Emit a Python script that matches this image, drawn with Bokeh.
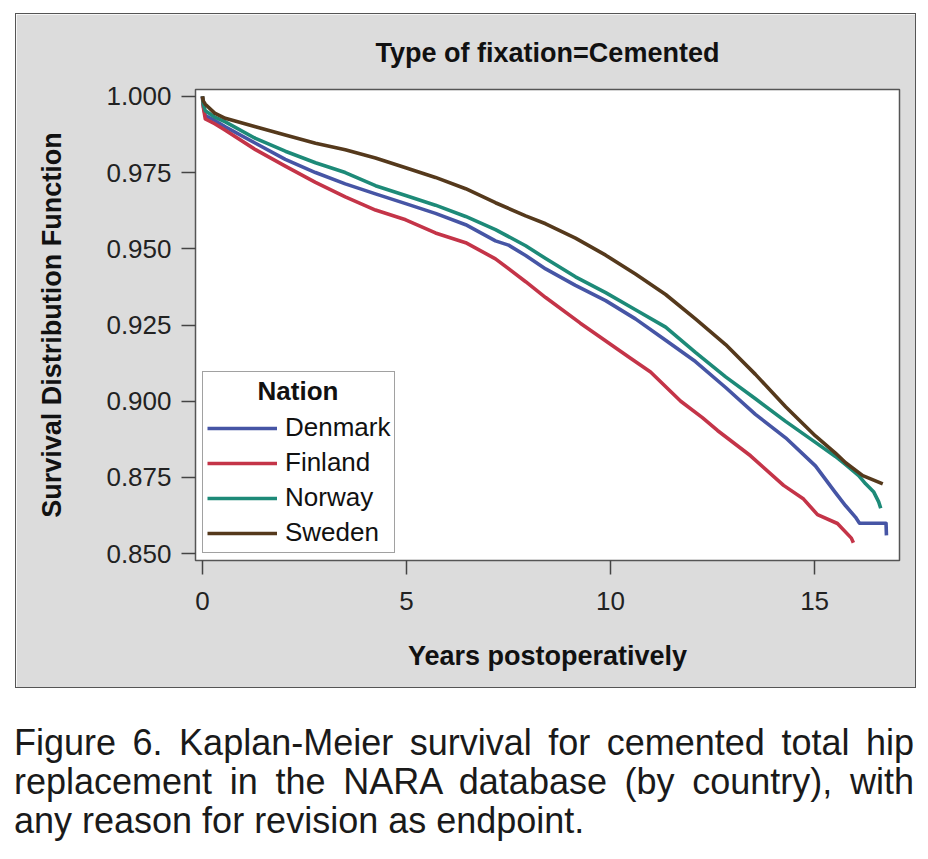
from bokeh.plotting import figure
from bokeh.models import Range1d, FixedTicker, NumeralTickFormatter, Legend, LegendItem, Div, Spacer
from bokeh.layouts import column, row
from bokeh.embed import file_html
from bokeh.resources import INLINE

# ---- data ----
nations = ["Denmark", "Finland", "Norway", "Sweden"]
colors = ["#4655a5", "#c43448", "#1d8a78", "#55391c"]

denmark_t = [0, 0.02, 0.07, 0.3, 0.56, 1.30, 2.03, 2.77, 3.50, 4.24, 4.98, 5.71, 6.45, 7.18,
             7.5, 7.92, 8.41, 9.14, 9.88, 10.61, 11.35, 12.08, 12.82, 13.55, 14.29, 15.02,
             15.51, 15.76, 16.0, 16.1, 16.75, 16.76]
denmark_s = [1.000, 0.9970, 0.9937, 0.9921, 0.9900, 0.9846, 0.9793, 0.9750, 0.9713, 0.9680,
             0.9648, 0.9616, 0.9579, 0.9526, 0.9512, 0.9478, 0.9434, 0.9380, 0.9330, 0.9270,
             0.9200, 0.9130, 0.9045, 0.8957, 0.8880, 0.8788, 0.8700, 0.8657, 0.8620, 0.8600,
             0.8600, 0.8560]

finland_t = [0, 0.02, 0.07, 0.3, 0.56, 1.30, 2.03, 2.77, 3.50, 4.24, 4.98, 5.71, 6.45, 7.18,
             7.92, 8.41, 9.26, 10.49, 10.98, 11.72, 12.25, 12.62, 13.43, 14.24, 14.73, 15.07,
             15.56, 15.9, 15.95]
finland_s = [1.000, 0.9965, 0.9926, 0.9910, 0.9889, 0.9825, 0.9771, 0.9718, 0.9670, 0.9627,
             0.9595, 0.9552, 0.9520, 0.9467, 0.9392, 0.9340, 0.9256, 0.9141, 0.9096, 0.9000,
             0.8946, 0.8904, 0.8821, 0.8724, 0.8679, 0.8628, 0.8599, 0.8551, 0.8536]

norway_t = [0, 0.02, 0.07, 0.3, 0.56, 1.30, 2.03, 2.77, 3.50, 4.24, 4.98, 5.71, 6.45, 7.18,
            7.92, 8.41, 9.14, 9.88, 10.61, 11.35, 12.08, 12.82, 13.55, 14.29, 15.02, 15.51,
            15.76, 16.08, 16.25, 16.45, 16.57, 16.62]
norway_s = [1.000, 0.9975, 0.9953, 0.9932, 0.9916, 0.9862, 0.9820, 0.9782, 0.9750, 0.9707,
            0.9675, 0.9643, 0.9606, 0.9563, 0.9510, 0.9468, 0.9408, 0.9356, 0.9300, 0.9243,
            0.9160, 0.9080, 0.9008, 0.8934, 0.8865, 0.8819, 0.8792, 0.8756, 0.8729, 0.8702,
            0.8670, 0.8649]

sweden_t = [0, 0.02, 0.07, 0.3, 0.56, 1.30, 2.03, 2.77, 3.50, 4.24, 4.98, 5.71, 6.45, 7.18,
            7.92, 8.41, 9.14, 9.88, 10.61, 11.35, 12.08, 12.82, 13.55, 14.29, 15.02, 15.51,
            15.76, 16.18, 16.67]
sweden_s = [1.000, 0.9985, 0.9974, 0.9945, 0.9928, 0.9900, 0.9873, 0.9846, 0.9825, 0.9798,
            0.9766, 0.9734, 0.9697, 0.9651, 0.9608, 0.9582, 0.9535, 0.9479, 0.9417, 0.9350,
            0.9270, 0.9186, 0.9088, 0.8982, 0.8886, 0.8830, 0.8798, 0.8756, 0.8729]

x_ticks = [0, 5, 10, 15]
y_ticks = [0.850, 0.875, 0.900, 0.925, 0.950, 0.975, 1.000]

title_text = "Type of fixation=Cemented"
x_label = "Years postoperatively"
y_label = "Survival Distribution Function"
legend_title = "Nation"
caption_lines = [
    "Figure 6. Kaplan-Meier survival for cemented total hip",
    "replacement in the NARA database (by country), with",
    "any reason for revision as endpoint.",
]

FONT = "Liberation Sans"

p = figure(width=899, height=673, output_backend="svg", toolbar_location=None,
           x_range=Range1d(-0.17, 17.08), y_range=Range1d(0.84776, 1.00224),
           min_border_left=179, min_border_right=16, min_border_top=64, min_border_bottom=127,
           margin=0)
p.styles = {"outline": "1.5px solid #555"}
p.border_fill_color = "#dcdcdc"
p.background_fill_color = "white"
p.outline_line_color = "#555555"
p.outline_line_width = 1.5
p.grid.visible = False

p.title.text = title_text
p.title.align = "center"
p.title.text_font = FONT
p.title.text_font_size = "27px"
p.title.text_font_style = "bold"
p.title.text_color = "#111111"
p.title.standoff = 43

for ax in (p.xaxis[0], p.yaxis[0]):
    ax.axis_line_color = None
    ax.major_tick_line_color = "#444444"
    ax.major_tick_line_width = 1.5
    ax.major_tick_in = 0
    ax.major_tick_out = 14
    ax.minor_tick_line_color = None
    ax.major_label_text_font = FONT
    ax.major_label_text_font_size = "26px"
    ax.major_label_text_color = "#222222"
    ax.axis_label_text_font = FONT
    ax.axis_label_text_font_size = "27px"
    ax.axis_label_text_font_style = "bold"
    ax.axis_label_text_color = "#111111"

p.xaxis[0].ticker = FixedTicker(ticks=x_ticks)
p.yaxis[0].ticker = FixedTicker(ticks=y_ticks)
p.yaxis[0].formatter = NumeralTickFormatter(format="0.000")
p.xaxis[0].axis_label = x_label
p.yaxis[0].axis_label = y_label
p.xaxis[0].major_label_standoff = 17
p.yaxis[0].major_label_standoff = 10
p.xaxis[0].axis_label_standoff = 28
p.yaxis[0].axis_label_standoff = 36

series = [(denmark_t, denmark_s), (finland_t, finland_s), (norway_t, norway_s), (sweden_t, sweden_s)]
items = []
for name, col, (t, s) in zip(nations, colors, series):
    r = p.line(t, s, line_color=col, line_width=3.6, line_join="round")
    items.append(LegendItem(label=name, renderers=[r]))

legend = Legend(items=items, location=(7, 7), title="\u00a0" * 7 + legend_title)
legend.title_text_font = FONT
legend.title_text_font_size = "26px"
legend.title_text_font_style = "bold"
legend.title_text_color = "#111111"
legend.label_text_font = FONT
legend.label_text_font_size = "26px"
legend.label_text_color = "#111111"
legend.label_height = 30
legend.label_standoff = 8
legend.glyph_width = 70
legend.glyph_height = 30
legend.spacing = 4
legend.padding = 4
legend.margin = 0
legend.border_line_color = "#444444"
legend.border_line_width = 1.5
legend.background_fill_color = "white"
legend.background_fill_alpha = 1
p.add_layout(legend, "center")

html = ('<div style="font-family:\'Liberation Sans\',Arial,sans-serif;font-size:36px;'
        'line-height:39px;color:#1a1a1a;width:900px;margin-left:-2px;">'
        + "".join('<div style="text-align:justify;text-align-last:justify;">%s</div>' % l
                  for l in caption_lines[:-1])
        + '<div>%s</div>' % caption_lines[-1]
        + '</div>')
caption = Div(text=html, width=899, margin=0)

layout = row(Spacer(width=16, height=10),
             column(Spacer(width=10, height=14), p, Spacer(width=10, height=36), caption))
open("out.html", "w").write(file_html(layout, INLINE))
